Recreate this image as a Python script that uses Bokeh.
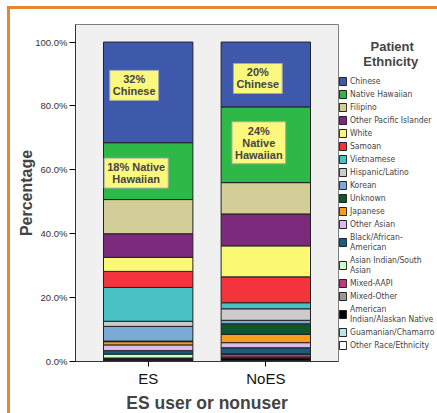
from bokeh.plotting import figure
from bokeh.models import (ColumnDataSource, FactorRange, Range1d, Legend, LegendItem,
                          Label, PrintfTickFormatter, FixedTicker)
from bokeh.embed import file_html
from bokeh.resources import INLINE

# ---- data ----
groups = ["ES", "NoES"]
ethnicities = ["Chinese", "Native Hawaiian", "Filipino", "Other Pacific Islander", "White",
               "Samoan", "Vietnamese", "Hispanic/Latino", "Korean", "Unknown", "Japanese",
               "Other Asian", "Black/African-American", "Asian Indian/South Asian",
               "Mixed-AAPI", "Mixed-Other", "American Indian/Alaskan Native",
               "Guamanian/Chamarro", "Other Race/Ethnicity"]
es_pct = [31.5, 17.8, 10.7, 7.4, 4.4, 5.0, 10.6, 1.6, 4.6, 0.2, 1.0, 1.8, 1.1, 1.2,
          0.2, 0.1, 0.5, 0.2, 0.1]
noes_pct = [20.3, 23.7, 9.8, 10.0, 9.7, 8.1, 1.9, 3.6, 1.1, 3.3, 2.6, 1.6, 1.9, 0.2,
            0.8, 0.3, 0.8, 0.1, 0.2]
y_ticks = [0, 20, 40, 60, 80, 100]
annot_text = ["32%\nChinese", "18% Native\nHawaiian", "20%\nChinese", "24%\nNative\nHawaiian"]
annot_group = ["ES", "ES", "NoES", "NoES"]
annot_ethnicity = ["Chinese", "Native Hawaiian", "Chinese", "Native Hawaiian"]
legend_title_lines = ["Patient", "Ethnicity"]

# ---- style ----
colors = ["#3E58AC", "#2EB848", "#D3CE97", "#7B2A7C", "#FBF873", "#F3343D", "#48C2C5",
          "#CCCCCC", "#7BAAD7", "#0E562B", "#F89C20", "#DDB9EC", "#1C5C7A", "#CCFFCC",
          "#C23A7E", "#999999", "#000000", "#BEE6E6", "#FFFFFF"]
legend_wrap = {"Black/African-American": "Black/African-\nAmerican",
               "Asian Indian/South Asian": "Asian Indian/South\nAsian",
               "American Indian/Alaskan Native": "American\nIndian/Alaskan Native"}
title_indent = [9, 7]          # non-breaking spaces to centre each title line
annot_dx = [-14, -12, -8, -7]
annot_dy = [7, -2, -4, 2]
FONT = "Liberation Sans"
LEG_FONT = "Liberation Sans Narrow, Arial Narrow, DejaVu Sans Condensed, Liberation Sans"
FRAME_W, FRAME_H = 263, 337
ORANGE = "#E9852C"

keys = [f"k{i}" for i in range(len(ethnicities))]
data = {"group": groups}
for i, k in enumerate(keys):
    data[k] = [es_pct[i], noes_pct[i]]
source = ColumnDataSource(data)

p = figure(x_range=FactorRange(*groups, range_padding=0.118, range_padding_units="absolute"),
           y_range=Range1d(0, 105.5), frame_width=FRAME_W, frame_height=FRAME_H,
           output_backend="svg", toolbar_location=None,
           min_border_left=75, min_border_right=90, min_border_top=24, min_border_bottom=52)
p.border_fill_color = None
p.styles = {"background": (f"linear-gradient({ORANGE},{ORANGE}) 7px 6px / 3px 100% no-repeat, "
                           f"linear-gradient({ORANGE},{ORANGE}) 7px 6px / 100% 3px no-repeat, "
                           "#ffffff")}

renderers = p.vbar_stack(keys[::-1], x="group", width=0.76, color=colors[::-1],
                         line_color="#222222", line_width=1, source=source)
rmap = {k: r for k, r in zip(keys[::-1], renderers)}

title_text = "\n" + "\n".join("\u00a0" * n + t for n, t in zip(title_indent, legend_title_lines))
items = [LegendItem(label=legend_wrap.get(e, e), renderers=[rmap[k]])
         for e, k in zip(ethnicities, keys)]
legend = Legend(items=items, location="top_left", glyph_width=9, glyph_height=10,
                label_height=10, label_standoff=3, spacing=3, padding=0, margin=0,
                border_line_alpha=0, background_fill_alpha=0,
                label_text_font_size="8.5px", label_text_font=LEG_FONT,
                label_text_line_height=0.95,
                title=title_text, title_text_font=FONT,
                title_text_font_size="13px", title_text_font_style="bold",
                title_text_line_height=0.87, title_standoff=7)
p.add_layout(legend, "right")

# annotation labels at segment middles (categorical centre = index + 0.5)
gi = {"ES": es_pct, "NoES": noes_pct}
for g, e, t, dx, dy in zip(annot_group, annot_ethnicity, annot_text, annot_dx, annot_dy):
    vals = gi[g]
    idx = ethnicities.index(e)
    top = 100 - sum(vals[:idx])
    lab = Label(x=groups.index(g) + 0.5, y=top - vals[idx] / 2, text=t,
                x_offset=dx, y_offset=dy,
                text_align="center", text_baseline="middle", text_font_size="11px",
                text_font_style="bold", text_font=FONT, text_line_height=1.0,
                background_fill_color="#FBF87E", border_line_color="#A8A8A8",
                padding=3)
    p.add_layout(lab)

p.background_fill_color = "#F0F0F0"
p.outline_line_color = "#808080"
p.xgrid.visible = False
p.ygrid.visible = False

p.yaxis.ticker = FixedTicker(ticks=y_ticks)
p.yaxis.formatter = PrintfTickFormatter(format="%.1f%%")
p.yaxis.major_label_text_font_size = "9.5px"
p.yaxis.major_label_text_font = FONT
p.yaxis.major_label_text_color = "#333333"
p.yaxis.major_tick_out = 6
p.yaxis.major_tick_in = 0
p.yaxis.minor_tick_out = 0
p.yaxis.major_label_standoff = 2
p.yaxis.axis_label = "Percentage"
p.yaxis.axis_label_text_font_size = "16px"
p.yaxis.axis_label_text_font_style = "bold"
p.yaxis.axis_label_text_font = FONT
p.yaxis.axis_label_standoff = -3
p.yaxis.axis_line_color = "#333333"

p.xaxis.major_label_text_font_size = "15px"
p.xaxis.major_label_text_font = FONT
p.xaxis.major_label_text_color = "#111111"
p.xaxis.major_tick_out = 5
p.xaxis.major_tick_in = 0
p.xaxis.major_label_standoff = 3
p.xaxis.axis_label = "ES user or nonuser"
p.xaxis.axis_label_text_font_size = "17.5px"
p.xaxis.axis_label_text_font_style = "bold"
p.xaxis.axis_label_text_font = FONT
p.xaxis.axis_label_standoff = 3
p.xaxis.axis_line_color = "#333333"

open("out.html", "w").write(file_html(p, INLINE))
